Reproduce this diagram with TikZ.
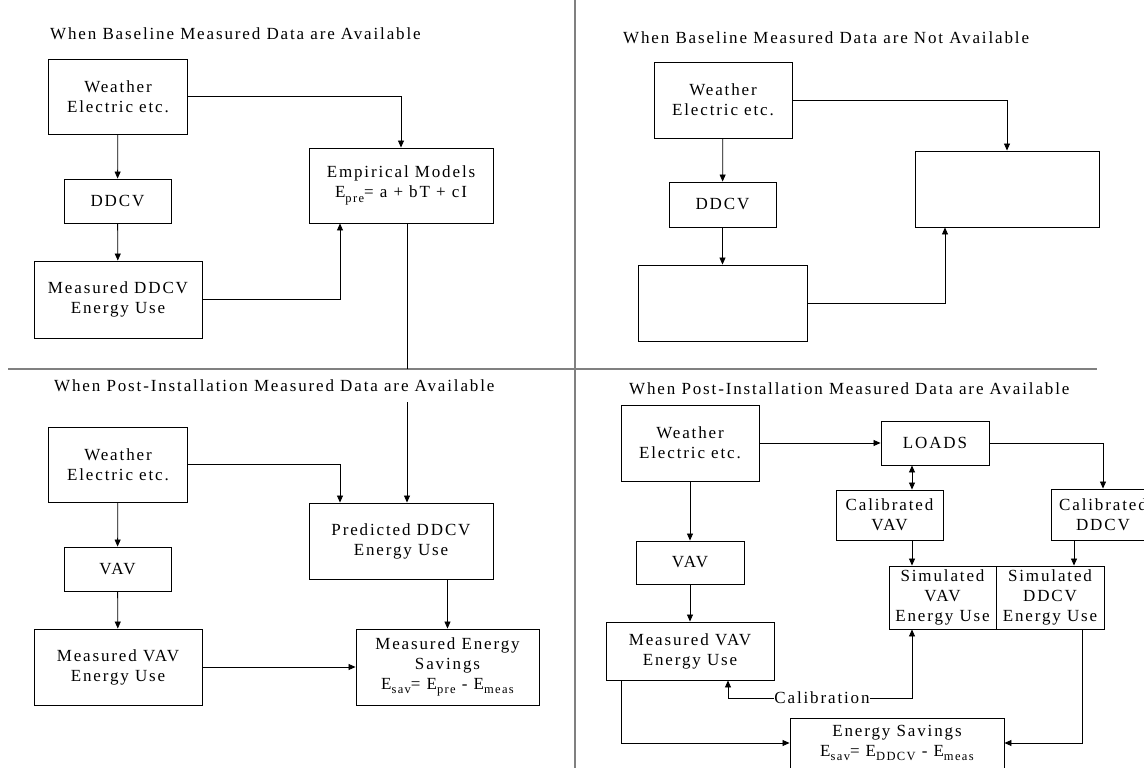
\documentclass[tikz,border=0pt]{standalone}
\usepackage{fontspec}
\setmainfont{Liberation Serif}[LetterSpace=11]
\usetikzlibrary{arrows.meta}
\newcommand{\lsub}[1]{\raisebox{-0.6ex}{\fontsize{12.5}{12.5}\selectfont #1}}
\tikzset{
  box/.style={draw, line width=0.9pt, align=center, inner sep=0pt},
  conn/.style={line width=0.8pt, -{Triangle[length=7pt,width=6pt]}},
  divider/.style={draw=gray, line width=1.6pt},
  heading/.style={anchor=west, inner sep=0pt}
}
\begin{document}
\begin{tikzpicture}[x=1pt, y=-1pt, font=\fontsize{17}{20}\selectfont]
\useasboundingbox (0,0) rectangle (1144,768);
\draw[divider] (575,0) -- (575,768);
\draw[divider] (8,369) -- (1097,369);
\coordinate (cuttop) at (0,369);
\coordinate (cutbot) at (0,402);
\node[heading] (t1) at (50,34) {When Baseline Measured Data are Available};
\node[heading] (t2) at (623,38) {When Baseline Measured Data are Not Available};
\node[heading] (t3) at (54,386) {When Post-Installation Measured Data are Available};
\node[heading] (t4) at (629,389) {When Post-Installation Measured Data are Available};

\node[box, minimum width=139, minimum height=75] (w1) at (118,96.5) {Weather\\Electric etc.};
\node[box, minimum width=107, minimum height=44] (d1) at (117.5,201) {DDCV};
\node[box, minimum width=168, minimum height=77] (m1) at (118,299.5) {Measured DDCV\\Energy Use};
\node[box, minimum width=184, minimum height=75] (emp) at (401,185.5) {Empirical Models\\E\lsub{pre}= a + bT + cI};
\draw[conn] (w1) -- (d1);
\draw[conn] (d1) -- (m1);
\draw[conn] (w1.east) -| (emp.north);
\draw[conn] (m1.east) -| ([xshift=-61pt]emp.south);

\node[box, minimum width=138, minimum height=76] (w2) at (723,100) {Weather\\Electric etc.};
\node[box, minimum width=107, minimum height=45] (d2) at (722.5,204.5) {DDCV};
\node[box, minimum width=169, minimum height=76] (b2) at (722.5,303) {};
\node[box, minimum width=184, minimum height=76] (r2) at (1007,189) {};
\draw[conn] (w2) -- (d2);
\draw[conn] (d2) -- (b2);
\draw[conn] (w2.east) -| (r2.north);
\draw[conn] (b2.east) -| ([xshift=-62pt]r2.south);

\node[box, minimum width=139, minimum height=75] (w3) at (118,464.5) {Weather\\Electric etc.};
\node[box, minimum width=107, minimum height=44] (v3) at (117.5,569) {VAV};
\node[box, minimum width=168, minimum height=76] (mv3) at (118,667) {Measured VAV\\Energy Use};
\node[box, minimum width=184, minimum height=76] (pred) at (401,541) {Predicted DDCV\\Energy Use};
\node[box, minimum width=183, minimum height=76] (sav3) at (447.5,667) {Measured Energy\\Savings\\E\lsub{sav}= E\lsub{pre} - E\lsub{meas}};
\draw[conn] (w3) -- (v3);
\draw[conn] (v3) -- (mv3);
\draw[conn] (w3.east) -| ([xshift=-61pt]pred.north);
\draw[line width=0.8pt] ([xshift=6pt]emp.south) -- ([xshift=6pt]emp.south |- cuttop);
\draw[conn] ([xshift=6pt]pred.north |- cutbot) -- ([xshift=6pt]pred.north);
\draw[conn] (pred.south -| sav3.north) -- (sav3.north);
\draw[conn] (mv3.east) -- (mv3.east -| sav3.west);

\node[box, minimum width=138, minimum height=76] (w4) at (690,443) {Weather\\Electric etc.};
\node[box, minimum width=108, minimum height=44] (loads) at (935,443) {LOADS};
\node[box, minimum width=107, minimum height=50] (cv) at (889.5,515) {Calibrated\\VAV};
\node[box, minimum width=104, minimum height=51] (cd) at (1103,514.5) {Calibrated\\DDCV};
\node[box, minimum width=107, minimum height=63] (sv) at (942.5,597.5) {Simulated\\VAV\\Energy Use};
\node[box, minimum width=108, minimum height=63] (sd) at (1050,597.5) {Simulated\\DDCV\\Energy Use};
\node[box, minimum width=108, minimum height=43] (v4) at (690,562.5) {VAV};
\node[box, minimum width=168, minimum height=58] (mv4) at (690,651) {Measured VAV\\Energy Use};
\node[box, minimum width=214, minimum height=50] (es) at (897,743) {Energy Savings\\E\lsub{sav}= E\lsub{DDCV} - E\lsub{meas}};
\node[inner sep=0pt] (cal) at (822,698) {Calibration};
\draw[conn] (w4) -- (v4);
\draw[conn] (v4) -- (mv4);
\draw[conn] (w4.east) -- (loads.west);
\draw[conn] (loads.east) -| (cd.north);
\draw[conn, {Triangle[length=7pt,width=6pt]}-{Triangle[length=7pt,width=6pt]}] ([xshift=-23pt]loads.south) -- ([xshift=-23pt]loads.south |- cv.north);
\draw[conn] ([xshift=22.5pt]cv.south) -- ([xshift=22.5pt]cv.south |- sv.north);
\draw[conn] ([xshift=-29pt]cd.south) -- ([xshift=-29pt]cd.south |- sd.north);
\draw[conn] (cal.west) -| ([xshift=38pt]mv4.south);
\draw[conn] (cal.east) -| ([xshift=-30.5pt]sv.south);
\draw[conn] ([xshift=-69pt]mv4.south) |- (es.west);
\draw[conn] ([xshift=32pt]sd.south) |- (es.east);
\end{tikzpicture}
\end{document}
